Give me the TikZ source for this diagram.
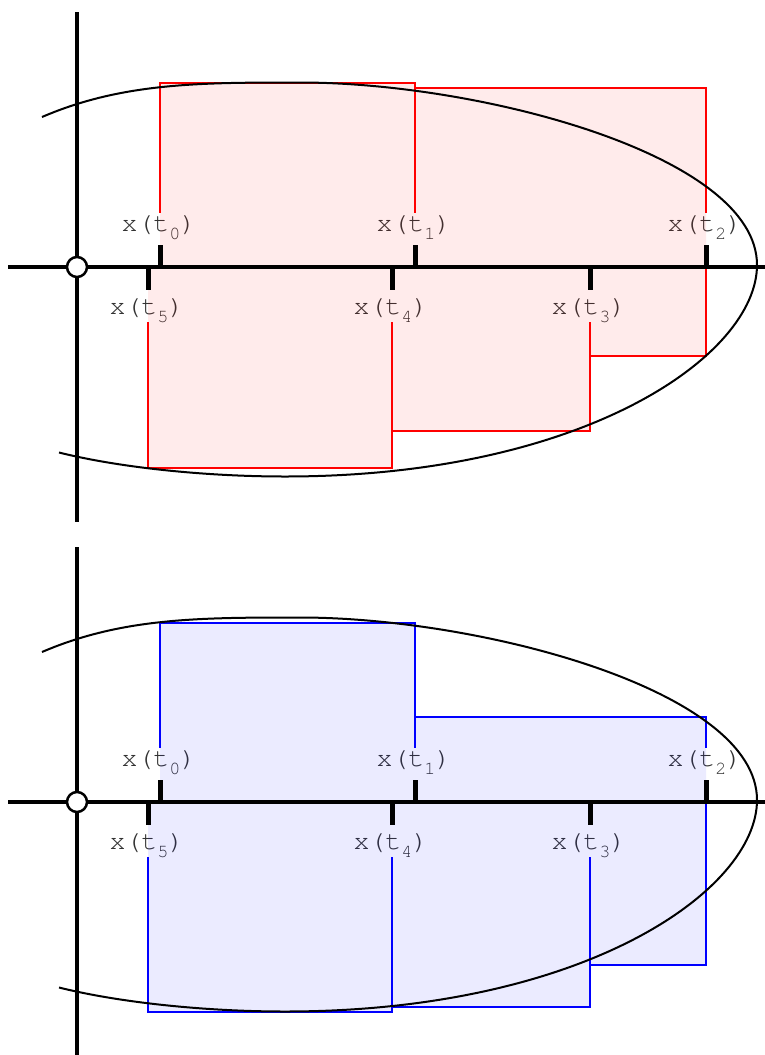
\documentclass[tikz,border=0pt]{standalone}
\usepackage{fontspec}
\newfontfamily\labfont{TeX Gyre Cursor}
\newcommand\xt[1]{x(t\raisebox{-7.5pt}{\fontsize{18.5}{18.5}\selectfont #1})}
\newcommand\panel[9]{%
\begin{scope}[shift={(0,#1)}]
  \draw[outline,#2] (160,267) rectangle (415,#4);
  \draw[outline,#2] (415,267) rectangle (706,#5);
  \draw[outline,#2] (148,267) rectangle (392,#6);
  \draw[outline,#2] (392,267) rectangle (590,#7);
  \draw[outline,#2] (590,267) rectangle (706,#8);
  \node[labup] (#9l0) at (159,245) {\xt0};
  \node[labup] (#9l1) at (414,245) {\xt1};
  \node[labup] (#9l2) at (705,245) {\xt2};
  \node[labdn] (#9l5) at (147,290) {\xt5};
  \node[labdn] (#9l4) at (391,290) {\xt4};
  \node[labdn] (#9l3) at (589,290) {\xt3};
  \fill[#3, fill opacity=0.08] (160,267) rectangle (415,#4) (415,267) rectangle (706,#5)
     (148,267) rectangle (392,#6) (392,267) rectangle (590,#7) (590,267) rectangle (706,#8);
  \coordinate (#9vt) at (77,12);
  \coordinate (#9vb) at (77,522);
  \coordinate (#9hl) at (8,267);
  \coordinate (#9hr) at (770,267);
  \draw[axis] (#9vt) -- (#9vb);
  \draw[axis] (#9hl) -- (#9hr);
  \draw[tickmark] (160,245) -- (160,267);
  \draw[tickmark] (415,245) -- (415,267);
  \draw[tickmark] (706,245) -- (706,267);
  \draw[tickmark] (148,267) -- (148,290);
  \draw[tickmark] (392,267) -- (392,290);
  \draw[tickmark] (590,267) -- (590,290);
  \node[origin] (#9o) at (77,267) {};
  \draw[curve] (42,117) .. controls (122,82.6) and (200,82.5) .. (300,82.5)
     .. controls (480,82.5) and (757,155) .. (757,265)
     .. controls (757,355) and (585,476.5) .. (285,476.5)
     .. controls (205,476.5) and (119,467.5) .. (59,452.5);
\end{scope}}
\begin{document}
\begin{tikzpicture}[x=1pt,y=-1pt,
  axis/.style={line width=3.3pt},
  tickmark/.style={line width=5pt},
  curve/.style={line width=2pt},
  outline/.style={line width=2pt},
  origin/.style={circle, draw, fill=white, line width=2.5pt, minimum size=20pt, inner sep=0pt},
  lab/.style={font=\labfont\fontsize{26.5}{28}\selectfont, text=black!80, fill=white, inner xsep=1pt, inner ysep=0pt},
  labup/.style={lab, anchor=south, text height=18.7pt, text depth=13.3pt},
  labdn/.style={lab, anchor=north, text height=24.3pt, text depth=7.7pt},
]
\useasboundingbox (0,0) rectangle (765,1055);
\panel{0}{red}{red}{82.5}{88}{467.5}{430.5}{355.5}{A}
\panel{535}{blue}{blue}{88}{181.5}{477}{472}{430}{B}
\end{tikzpicture}
\end{document}
